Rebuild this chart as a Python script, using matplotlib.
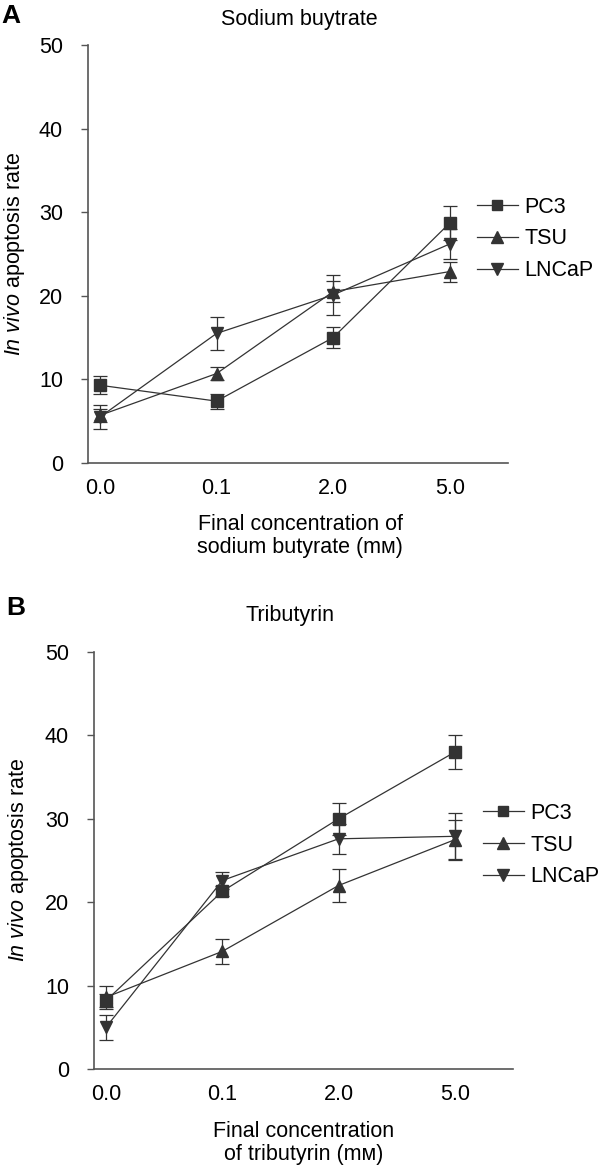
import numpy as np
import matplotlib
matplotlib.use("Agg")
from matplotlib import pyplot as plt
from matplotlib.lines import Line2D

plt.rcParams['font.family'] = ['Liberation Sans', 'DejaVu Sans']
plt.rcParams['mathtext.fontset'] = 'custom'
plt.rcParams['mathtext.it'] = 'Liberation Sans:italic'
plt.rcParams['mathtext.rm'] = 'Liberation Sans'

concentrations = ['0.0', '0.1', '2.0', '5.0']
cell_lines = ['PC3', 'TSU', 'LNCaP']
markers = ['s', '^', 'v']

# panel A: sodium butyrate
butyrate_mean = {
    'PC3': [9.3, 7.4, 15.0, 28.7],
    'TSU': [5.7, 10.7, 20.5, 22.9],
    'LNCaP': [5.5, 15.5, 20.1, 26.2],
}
butyrate_err = {
    'PC3': [1.1, 0.9, 1.25, 2.0],
    'TSU': [0.8, 0.8, 1.3, 1.2],
    'LNCaP': [1.45, 2.0, 2.4, 1.8],
}

# panel B: tributyrin
tributyrin_mean = {
    'PC3': [8.2, 21.3, 30.0, 38.0],
    'TSU': [8.6, 14.1, 22.0, 27.5],
    'LNCaP': [5.0, 22.6, 27.6, 27.9],
}
tributyrin_err = {
    'PC3': [0.8, 0.6, 1.9, 2.0],
    'TSU': [1.4, 1.5, 2.0, 2.3],
    'LNCaP': [1.5, 1.0, 1.8, 2.8],
}

yticks = [0, 10, 20, 30, 40, 50]
farbe = '#333333'
achse = '#555555'
gross = 15.5

fig = plt.figure(figsize=(6, 11.69), dpi=100)


def px(x, y):
    # pixel from top-left -> figure fraction
    return x / 600, 1 - y / 1169


def panel(rect, mittel, fehler, titel, xlabel, buchstabe, titel_pos, buchstabe_pos,
          ylabel_pos, xlabel_pos, legende_pos):
    ax = fig.add_axes(rect)
    x = np.arange(len(concentrations))
    griffe = []
    for name, m in zip(cell_lines, markers):
        ms = 8.5 if m == 's' else 9
        ax.errorbar(x, mittel[name], yerr=fehler[name], color=farbe, marker=m,
                    markersize=ms, linewidth=0.9, elinewidth=0.9,
                    capsize=5, capthick=0.9)
        griffe.append(Line2D([], [], color=farbe, marker=m, markersize=ms - 1,
                             linewidth=0.9, label=name))
    ax.set_xlim(-0.103, 3.5)
    ax.set_ylim(0, 50)
    ax.set_yticks(yticks)
    ax.set_xticks(x)
    ax.set_xticklabels(concentrations)
    ax.spines['top'].set_visible(False)
    ax.spines['right'].set_visible(False)
    for s in ['left', 'bottom']:
        ax.spines[s].set_color(achse)
        ax.spines[s].set_linewidth(1.2)
    ax.tick_params(axis='y', length=5, width=1, color=achse, labelsize=gross, pad=13)
    ax.tick_params(axis='x', length=0, labelsize=gross, pad=11)
    fig.text(*px(*ylabel_pos), r'$\it{In\ vivo}$ apoptosis rate', rotation=90,
             ha='center', va='center', fontsize=gross)
    fig.text(*px(*titel_pos), titel, ha='center', va='center', fontsize=gross)
    fig.text(*px(*buchstabe_pos), buchstabe, ha='left', va='center', fontsize=19,
             fontweight='bold')
    fig.text(*px(*xlabel_pos), xlabel, ha='center', va='center', fontsize=gross,
             linespacing=1.15, family=['Liberation Sans', 'DejaVu Sans'])
    ax.legend(handles=griffe, loc='center left', bbox_to_anchor=legende_pos,
              frameon=False, fontsize=gross, handlelength=1.9, handletextpad=0.3,
              labelspacing=0.5, borderaxespad=0, borderpad=0)
    return ax


panel([88 / 600, 1 - 463 / 1169, 420 / 600, 418 / 1169],
      butyrate_mean, butyrate_err, 'Sodium buytrate',
      'Final concentration of\nsodium butyrate (m\u1d0d)', 'A',
      (299, 19), (1, 16), (15, 254), (300, 536), (0.926, 0.536))

panel([94 / 600, 1 - 1069 / 1169, 419 / 600, 417 / 1169],
      tributyrin_mean, tributyrin_err, 'Tributyrin',
      'Final concentration\nof tributyrin (m\u1d0d)', 'B',
      (290, 615), (6, 608), (19, 860), (304, 1143), (0.928, 0.537))

fig.savefig('out.png', dpi=100)
